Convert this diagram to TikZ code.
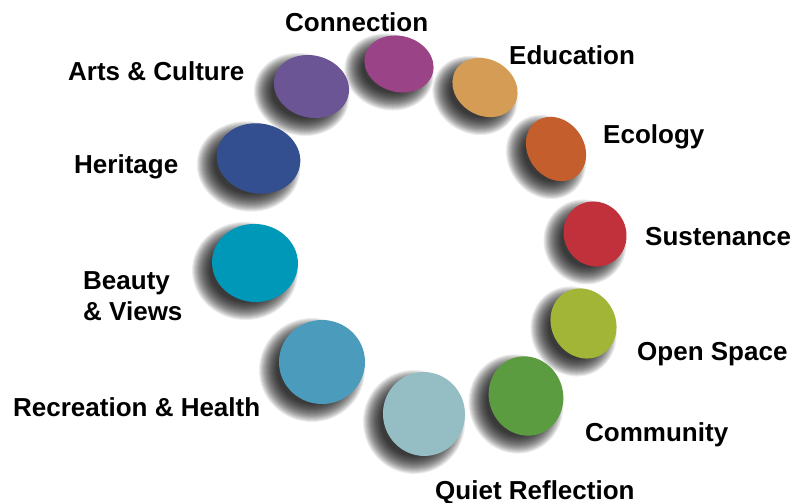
\documentclass[tikz,border=0pt]{standalone}
\usepackage{fontspec}
\setmainfont{Liberation Sans}
\usetikzlibrary{shapes.geometric}

\definecolor{connection}{HTML}{9A4487}
\definecolor{arts}{HTML}{6B5594}
\definecolor{education}{HTML}{D49C55}
\definecolor{ecology}{HTML}{C45E2C}
\definecolor{heritage}{HTML}{344F8F}
\definecolor{sustenance}{HTML}{C0313B}
\definecolor{beauty}{HTML}{0098B8}
\definecolor{openspace}{HTML}{A2B536}
\definecolor{recreation}{HTML}{4B9BBD}
\definecolor{community}{HTML}{5C9C40}
\definecolor{quiet}{HTML}{94BDC4}

\tikzset{
  camada/.style={black, opacity=0.075},
  bola/.style={ellipse, draw=none, inner sep=0pt},
  rotulo/.style={inner sep=0pt, anchor=base west, font=\bfseries\fontsize{26}{31}\selectfont},
}

% bola com sombra: nome, x, y, largura, altura, angulo, cor
\newcommand{\bola}[7]{%
  \foreach \k in {0,...,18}{
    \fill[camada, rotate around={#6:(#2-10,#3+8)}] (#2-10,#3+8)
      ellipse [x radius={#4/2+10-\k}, y radius={#5/2+10-\k}];
  }
  \node[bola, fill=#7, minimum width=#4pt, minimum height=#5pt, rotate=#6] (#1) at (#2,#3) {};
}

\begin{document}
\begin{tikzpicture}[x=1pt, y=-1pt]
        \useasboundingbox (0,0) rectangle (795,503);

        % Desenha as bolas
        \bola{bconnection}{399}{64}{70}{56}{-15}{connection}
        \bola{barts}{311.5}{86.5}{76}{62}{-15}{arts}
        \bola{beducation}{485}{87.5}{68}{56}{-30}{education}
        \bola{becology}{556}{149}{68}{56}{-55}{ecology}
        \bola{bheritage}{258.5}{158.5}{84}{70}{-10}{heritage}
        \bola{bsustenance}{595}{234}{66}{62}{-60}{sustenance}
        \bola{bbeauty}{255}{263}{86}{78}{-5}{beauty}
        \bola{bopenspace}{583.5}{323.5}{72}{64}{-60}{openspace}
        \bola{brecreation}{322}{362}{86}{84}{0}{recreation}
        \bola{bcommunity}{526}{396}{80}{74}{-70}{community}
        \bola{bquiet}{424}{414}{84}{82}{-80}{quiet}

        % Escreve os rotulos
        \node[rotulo] (tconnection) at (285,32) {Connection};
        \node[rotulo] (tarts) at (68,81) {Arts \& Culture};
        \node[rotulo] (theritage) at (74,173) {Heritage};
        \node[rotulo] (teducation) at (509,65) {Education};
        \node[rotulo] (tecology) at (603,143) {Ecology};
        \node[rotulo] (tsustenance) at (645,245) {Sustenance};
        \node[rotulo, anchor=west, align=left] (tbeauty) at (83,296.5) {Beauty\\\& Views};
        \node[rotulo] (topenspace) at (637,360) {Open Space};
        \node[rotulo] (trecreation) at (13,416) {Recreation \& Health};
        \node[rotulo] (tcommunity) at (585,441) {Community};
        \node[rotulo] (tquiet) at (435,499) {Quiet Reflection};
    \end{tikzpicture}
\end{document}
